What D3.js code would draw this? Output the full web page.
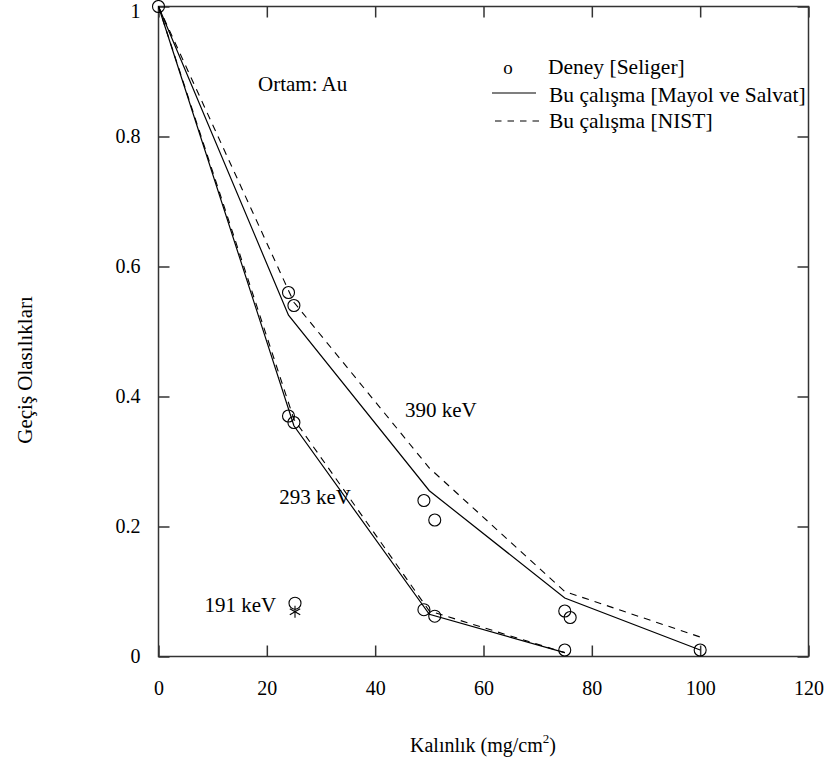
<!DOCTYPE html>
<html>
<head>
<meta charset="utf-8">
<script src="https://cdn.jsdelivr.net/npm/d3@7"></script>
<style>
  html, body { margin: 0; padding: 0; background: #fff; }
  svg text { font-family: "Times New Roman", "Liberation Serif", Tinos, "DejaVu Serif", serif; fill: #000; }
</style>
</head>
<body>
<svg id="chart" width="828" height="771"></svg>
<script>
// Thickness (mg/cm^2) and transmission probabilities in Au
const xTicks = [0, 20, 40, 60, 80, 100, 120];
const yTicks = [0, 0.2, 0.4, 0.6, 0.8, 1];
const yTickLabels = ["0", "0.2", "0.4", "0.6", "0.8", "1"];

// 390 keV
const calc390Mayol = [[0, 1], [24, 0.525], [50, 0.255], [75, 0.09], [100, 0.01]];
const calc390Nist  = [[0, 1], [25, 0.545], [50, 0.29], [75, 0.10], [100, 0.03]];
// 293 keV
const calc293Mayol = [[0, 1], [25, 0.355], [50, 0.065], [75, 0.006]];
const calc293Nist  = [[0, 1], [25, 0.365], [50, 0.07], [75, 0.006]];

// Experiment [Seliger]
const expSeliger = [
  [0, 1],
  [24, 0.56], [25, 0.54], [49, 0.24], [51, 0.21], [75, 0.07], [76, 0.06], [100, 0.01],
  [24, 0.37], [25, 0.36], [49, 0.072], [51, 0.062], [75, 0.01],
  [25.2, 0.082]
];
// 191 keV calculated point
const calc191 = [[25.2, 0.069]];

const energyLabels = [
  { text: "390 keV", x: 45.5, y: 0.368 },
  { text: "293 keV", x: 22.3, y: 0.235 },
  { text: "191 keV", x: 8.5, y: 0.068 }
];

const serif = '"Times New Roman", "Liberation Serif", Tinos, "DejaVu Serif", serif';
const svg = d3.select("#chart");
const mLeft = 158.5, mRight = 808.5, mTop = 6.5, mBottom = 656.5;

const x = d3.scaleLinear().domain([0, 120]).range([mLeft, mRight]);
const y = d3.scaleLinear().domain([0, 1]).range([mBottom, mTop]);

const frameColor = "#333";
const tickLen = 11;
const fontSize = 21;
const legendFont = 21.5;
const tickFont = 20;

// Frame
svg.append("rect")
  .attr("x", mLeft).attr("y", mTop)
  .attr("width", mRight - mLeft).attr("height", mBottom - mTop)
  .attr("fill", "none").attr("stroke", frameColor).attr("stroke-width", 1.5);

// Axes with inward ticks on all four sides
const xAxisB = d3.axisBottom(x).tickValues(xTicks).tickSizeInner(-tickLen).tickSizeOuter(0).tickPadding(24).tickFormat(d3.format("d"));
const xAxisT = d3.axisTop(x).tickValues(xTicks).tickSizeInner(-tickLen).tickSizeOuter(0).tickFormat("");
const yAxisL = d3.axisLeft(y).tickValues(yTicks).tickSizeInner(-tickLen).tickSizeOuter(0).tickPadding(18)
  .tickFormat((d, i) => yTickLabels[i]);
const yAxisR = d3.axisRight(y).tickValues(yTicks).tickSizeInner(-tickLen).tickSizeOuter(0).tickFormat("");

function styleAxis(g) {
  g.attr("font-family", null).attr("font-size", null);
  g.select(".domain").remove();
  g.selectAll(".tick line").attr("stroke", frameColor).attr("stroke-width", 1.5);
  g.selectAll(".tick text")
    .style("font-family", serif)
    .style("font-size", tickFont + "px").attr("fill", "#000");
}
svg.append("g").attr("transform", `translate(0,${mBottom})`).call(xAxisB).call(styleAxis);
svg.append("g").attr("transform", `translate(0,${mTop})`).call(xAxisT).call(styleAxis);
svg.append("g").attr("transform", `translate(${mLeft},0)`).call(yAxisL).call(styleAxis)
  .selectAll(".tick text").filter(d => d === 1).attr("dy", "0.55em");
svg.append("g").attr("transform", `translate(${mRight},0)`).call(yAxisR).call(styleAxis);

// Curves
const line = d3.line().x(d => x(d[0])).y(d => y(d[1]));
const solid = [calc390Mayol, calc293Mayol];
const dashed = [calc390Nist, calc293Nist];
svg.selectAll("path.solid").data(solid).enter().append("path")
  .attr("class", "solid").attr("d", line)
  .attr("fill", "none").attr("stroke", "#000").attr("stroke-width", 1.2);
svg.selectAll("path.dashed").data(dashed).enter().append("path")
  .attr("class", "dashed").attr("d", line)
  .attr("fill", "none").attr("stroke", "#000").attr("stroke-width", 1.1)
  .attr("stroke-dasharray", "7,6");

// Experimental points
svg.selectAll("circle.exp").data(expSeliger).enter().append("circle")
  .attr("class", "exp")
  .attr("cx", d => x(d[0])).attr("cy", d => y(d[1])).attr("r", 6)
  .attr("fill", "none").attr("stroke", "#000").attr("stroke-width", 1.1);

// Star marker for the 191 keV calculation
svg.selectAll("g.star").data(calc191).enter().append("g")
  .attr("class", "star")
  .attr("transform", d => `translate(${x(d[0])},${y(d[1])})`)
  .each(function() {
    const g = d3.select(this);
    const r = 6;
    [0, 60, 120].forEach(a => {
      const rad = a * Math.PI / 180;
      g.append("line")
        .attr("x1", -r * Math.sin(rad)).attr("y1", -r * Math.cos(rad))
        .attr("x2", r * Math.sin(rad)).attr("y2", r * Math.cos(rad))
        .attr("stroke", "#000").attr("stroke-width", 1.1);
    });
  });

// Text helper
function label(sel, tx, ty, text, size) {
  return sel.append("text").attr("x", tx).attr("y", ty)
    .style("font-family", serif).style("font-size", (size || fontSize) + "px").text(text);
}

// Energy labels
svg.selectAll("text.energy").data(energyLabels).enter().append("text")
  .attr("class", "energy")
  .attr("x", d => x(d.x)).attr("y", d => y(d.y))
  .style("font-family", serif)
  .style("font-size", fontSize + "px")
  .text(d => d.text);

label(svg, 258, 91, "Ortam: Au");

// Legend
const lg = svg.append("g");
label(lg, 508, 74, "o", 19).attr("text-anchor", "middle");
label(lg, 548, 74, "Deney [Seliger]", legendFont);
lg.append("line").attr("x1", 492).attr("x2", 536).attr("y1", 93).attr("y2", 93)
  .attr("stroke", "#000").attr("stroke-width", 1.1);
label(lg, 549, 102, "Bu çalışma [Mayol ve Salvat]", legendFont);
lg.append("line").attr("x1", 495).attr("x2", 539).attr("y1", 121).attr("y2", 121)
  .attr("stroke", "#000").attr("stroke-width", 1.1).attr("stroke-dasharray", "6.5,6");
label(lg, 549, 128, "Bu çalışma [NIST]", legendFont);

// Axis titles
label(svg, 0, 0, "Geçiş Olasılıkları")
  .attr("transform", "translate(32,370) rotate(-90)")
  .attr("text-anchor", "middle");

const xt = svg.append("text").attr("x", 483).attr("y", 752).attr("text-anchor", "middle")
  .style("font-family", serif).style("font-size", "20px");
xt.append("tspan").text("Kalınlık (mg/cm");
xt.append("tspan").attr("dy", -9).style("font-size", "13px").text("2");
xt.append("tspan").attr("dy", 9).text(")");
</script>
</body>
</html>
